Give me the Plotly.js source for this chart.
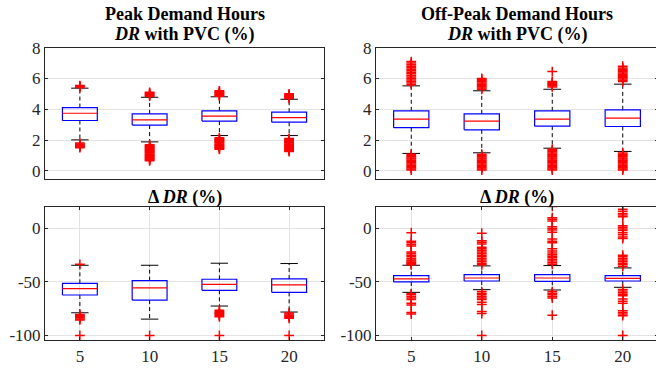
<!DOCTYPE html>
<html><head><meta charset="utf-8">
<script src="https://cdn.plot.ly/plotly-3.0.1.min.js"></script>
<style>html,body{margin:0;padding:0;overflow:hidden;background:#fff}#chart{width:660px;height:371px}</style>
</head><body><div id="chart"></div>
<script>
const categories = ['5', '10', '15', '20'];

// Peak demand hours: DR with PVC (%)
const peakDR_q1  = [3.27, 2.97, 3.23, 3.16];
const peakDR_med = [3.74, 3.31, 3.55, 3.46];
const peakDR_q3  = [4.11, 3.70, 3.90, 3.81];
const peakDR_lw  = [2.01, 1.88, 2.29, 2.29];
const peakDR_uw  = [5.37, 4.78, 4.81, 4.65];
const peakDR_out = [
  [5.42, 5.46, 5.50, 5.54, 1.50, 1.55, 1.60, 1.65, 1.70, 1.75, 1.80],
  [4.85, 4.90, 4.95, 5.00, 5.05, 5.10, 0.65, 0.70, 0.75, 0.80, 0.85, 0.90, 0.95, 1.00, 1.05, 1.10, 1.15, 1.20, 1.25, 1.30, 1.35, 1.40, 1.45, 1.50, 1.55, 1.60, 1.65, 1.70],
  [4.85, 4.90, 4.95, 5.00, 5.05, 5.10, 5.15, 5.20, 1.40, 1.45, 1.50, 1.55, 1.60, 1.65, 1.70, 1.75, 1.80, 1.85, 1.90, 1.95, 2.00, 2.05, 2.10, 2.15],
  [4.70, 4.75, 4.80, 4.85, 4.90, 4.95, 5.00, 1.25, 1.30, 1.35, 1.40, 1.45, 1.50, 1.55, 1.60, 1.65, 1.70, 1.75, 1.80, 1.85, 1.90, 1.95, 2.00, 2.05, 2.10]
];

// Off-peak demand hours: DR with PVC (%)
const offDR_q1  = [2.80, 2.66, 2.90, 2.88];
const offDR_med = [3.36, 3.23, 3.36, 3.42];
const offDR_q3  = [3.90, 3.70, 3.90, 3.96];
const offDR_lw  = [1.13, 1.17, 1.47, 1.26];
const offDR_uw  = [5.52, 5.20, 5.30, 5.63];
const offDR_out = [
  [5.60, 5.70, 5.80, 5.90, 6.00, 6.10, 6.20, 6.30, 6.40, 6.50, 6.60, 6.70, 6.80, 6.90, 7.00, 7.10, 0.05, 0.12, 0.20, 0.28, 0.36, 0.44, 0.52, 0.60, 0.68, 0.76, 0.84, 0.92, 1.00, 1.08],
  [5.30, 5.38, 5.46, 5.54, 5.62, 5.70, 5.78, 5.86, 5.94, 6.00, 0.05, 0.12, 0.20, 0.28, 0.36, 0.44, 0.52, 0.60, 0.68, 0.76, 0.84, 0.92, 1.00, 1.08],
  [5.45, 5.52, 5.59, 5.66, 5.73, 5.80, 6.45, 0.05, 0.12, 0.20, 0.28, 0.36, 0.44, 0.52, 0.60, 0.68, 0.76, 0.84, 0.92, 1.00, 1.08, 1.16, 1.24, 1.32, 1.40],
  [5.80, 5.88, 5.96, 6.04, 6.12, 6.20, 6.28, 6.36, 6.44, 6.52, 6.60, 6.68, 6.80, 0.05, 0.12, 0.20, 0.28, 0.36, 0.44, 0.52, 0.60, 0.68, 0.76, 0.84, 0.92, 1.00, 1.08, 1.16]
];

// Peak demand hours: Delta DR (%)
const peakDelta_q1  = [-62.2, -66.9, -57.8, -59.7];
const peakDelta_med = [-56.3, -55.6, -52.2, -52.8];
const peakDelta_q3  = [-51.3, -48.8, -47.5, -47.2];
const peakDelta_lw  = [-78.8, -84.7, -72.5, -78.1];
const peakDelta_uw  = [-34.4, -34.4, -32.5, -32.8];
const peakDelta_out = [
  [-33.5, -80.5, -81.5, -82.5, -83.5, -84.5, -85.5, -100],
  [-100],
  [-76.5, -77.5, -78.5, -79.5, -80.5, -81.5, -82.5, -100],
  [-79, -80, -81, -82, -83, -84, -100]
];

// Off-peak demand hours: Delta DR (%)
const offDelta_q1  = [-50.0, -49.1, -49.4, -49.1];
const offDelta_med = [-47.2, -46.3, -46.3, -46.6];
const offDelta_q3  = [-44.1, -43.1, -43.1, -44.1];
const offDelta_lw  = [-59.7, -57.2, -57.5, -55.0];
const offDelta_uw  = [-34.4, -35.0, -34.7, -36.9];
const offDelta_out = [
  [-4, -12, -13.5, -15, -16.5, -22, -23.5, -25, -26.5, -28, -29.5, -30.5, -31.5, -32.5, -33.5, -34, -61, -62, -63.5, -65, -66.5, -70, -71.5, -78.5, -80],
  [-4.5, -11.5, -13, -14.5, -17.5, -19, -20.5, -22, -23.5, -25, -26.5, -28, -29.5, -31, -32.5, -34, -59, -60.5, -62, -63.5, -65, -66.5, -69, -71, -77.5, -79.5, -100],
  [20.5, 10, 8.5, 7, 1.5, 0, -1.5, -3.5, -10, -12, -13.5, -19, -21, -23, -24.5, -26, -27.5, -29, -30.5, -32, -33.5, -59, -60.5, -62, -63.5, -65, -81],
  [18, 16, 14, 12.5, 11, 2.5, 1, -0.5, -2, -4, -6, -8, -9.5, -25, -26.5, -28, -29.5, -31, -32.5, -34, -35.5, -57, -58.5, -60, -61.5, -63, -66, -68, -70, -77, -78.5, -80, -81.5, -100]
];

function boxTraces(q1, med, q3, lw, uw, outliers, xa, ya) {
  const hw = 0.25, cw = 0.125;
  const bx = [], by = [], mx = [], my = [], wx = [], wy = [], cx = [], cy = [], ox = [], oy = [];
  for (let i = 0; i < categories.length; i++) {
    const p = i + 1;
    bx.push(p - hw, p + hw, p + hw, p - hw, p - hw, null);
    by.push(q1[i], q1[i], q3[i], q3[i], q1[i], null);
    mx.push(p - hw, p + hw, null);
    my.push(med[i], med[i], null);
    wx.push(p, p, null, p, p, null);
    wy.push(q3[i], uw[i], null, q1[i], lw[i], null);
    cx.push(p - cw, p + cw, null, p - cw, p + cw, null);
    cy.push(uw[i], uw[i], null, lw[i], lw[i], null);
    outliers[i].forEach(v => { ox.push(p); oy.push(v); });
  }
  const common = {type: 'scatter', xaxis: xa, yaxis: ya, hoverinfo: 'skip', showlegend: false};
  return [
    Object.assign({}, common, {x: wx, y: wy, mode: 'lines', line: {color: '#000', width: 1, dash: '4px,3px'}}),
    Object.assign({}, common, {x: cx, y: cy, mode: 'lines', line: {color: '#000', width: 1}}),
    Object.assign({}, common, {x: bx, y: by, mode: 'lines', line: {color: '#0000ff', width: 1.2}}),
    Object.assign({}, common, {x: mx, y: my, mode: 'lines', line: {color: '#ff0000', width: 1.2}}),
    Object.assign({}, common, {x: ox, y: oy, mode: 'markers',
      marker: {symbol: 'cross-thin-open', size: 7, color: '#ff0000', line: {color: '#ff0000', width: 1.5}}})
  ];
}

const data = [].concat(
  boxTraces(peakDR_q1, peakDR_med, peakDR_q3, peakDR_lw, peakDR_uw, peakDR_out, 'x', 'y'),
  boxTraces(offDR_q1, offDR_med, offDR_q3, offDR_lw, offDR_uw, offDR_out, 'x2', 'y2'),
  boxTraces(peakDelta_q1, peakDelta_med, peakDelta_q3, peakDelta_lw, peakDelta_uw, peakDelta_out, 'x3', 'y3'),
  boxTraces(offDelta_q1, offDelta_med, offDelta_q3, offDelta_lw, offDelta_uw, offDelta_out, 'x4', 'y4')
);

const W = 660, H = 371;
const serif = "'Liberation Serif', 'Times New Roman', serif";
const tickFont = {family: serif, size: 17, color: '#262626'};
const dxL = [45 / W, 324 / W], dxR = [376 / W, 658 / W];
const dyT = [1 - 178.5 / H, 1 - 47.7 / H], dyB = [1 - 340.2 / H, 1 - 207 / H];

function xAxis(domain, anchor, labels) {
  return {domain: domain, anchor: anchor, range: [0.5, 4.5], showline: true, mirror: labels ? 'ticks' : true,
    linecolor: '#262626', linewidth: 1, zeroline: false, fixedrange: true,
    tickvals: [1, 2, 3, 4], ticktext: categories, showticklabels: labels,
    ticks: labels ? 'inside' : '', ticklen: 3, tickcolor: '#262626',
    showgrid: labels, gridcolor: '#e3e3e3', gridwidth: 1, tickfont: Object.assign({}, tickFont)};
}
function yAxis(domain, anchor, range, vals) {
  return {domain: domain, anchor: anchor, range: range, showline: true, mirror: 'ticks',
    linecolor: '#262626', linewidth: 1, zeroline: false, fixedrange: true,
    tickvals: vals, ticktext: vals.map(v => String(v)), ticks: 'inside', ticklen: 3, tickcolor: '#262626',
    showgrid: true, gridcolor: '#e3e3e3', gridwidth: 1, tickfont: Object.assign({}, tickFont)};
}

const titleFont = {family: serif, size: 18, color: '#000'};
function ann(text, xc, yc) {
  return {text: text, xref: 'paper', yref: 'paper', x: xc / W, y: 1 - yc / H,
    xanchor: 'center', yanchor: 'middle', showarrow: false, font: Object.assign({}, titleFont)};
}

const layout = {
  width: W, height: H, margin: {l: 0, r: 0, t: 0, b: 0},
  font: {family: serif, color: '#262626'},
  paper_bgcolor: '#fff', plot_bgcolor: '#fff', showlegend: false,
  xaxis: xAxis(dxL, 'y', false),
  yaxis: yAxis(dyT, 'x', [-0.5, 8], [0, 2, 4, 6, 8]),
  xaxis2: xAxis(dxR, 'y2', false),
  yaxis2: yAxis(dyT, 'x2', [-0.5, 8], [0, 2, 4, 6, 8]),
  xaxis3: xAxis(dxL, 'y3', true),
  yaxis3: yAxis(dyB, 'x3', [-104.4, 20], [-100, -50, 0]),
  xaxis4: xAxis(dxR, 'y4', true),
  yaxis4: yAxis(dyB, 'x4', [-104.4, 20], [-100, -50, 0]),
  annotations: [
    ann('<b>Peak Demand Hours</b>', 184.5, 14.3),
    ann('<b><i>DR</i> with PVC (%)</b>', 184.5, 34.3),
    ann('<b>Off-Peak Demand Hours</b>', 517, 14.3),
    ann('<b><i>DR</i> with PVC (%)</b>', 517, 34.3),
    ann('<b>Δ <i>DR</i> (%)</b>', 184.5, 197.3),
    ann('<b>Δ <i>DR</i> (%)</b>', 517, 197.3)
  ]
};

Plotly.newPlot('chart', data, layout, {displayModeBar: false, staticPlot: true});
</script>
</body></html>
